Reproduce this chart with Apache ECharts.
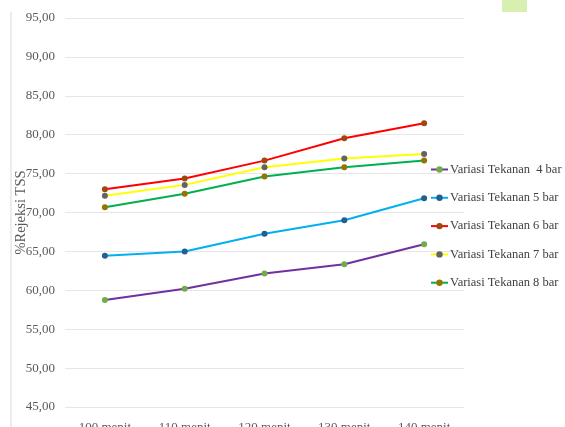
<!DOCTYPE html>
<html>
<head>
<meta charset="utf-8">
<script src="https://cdn.jsdelivr.net/npm/echarts@6/dist/echarts.min.js"></script>
<style>
  html, body { margin: 0; padding: 0; background: #ffffff; }
  #chart { width: 565px; height: 427px; }
</style>
</head>
<body>
<div id="chart"></div>
<script>
// Waktu operasi (menit)
const categories = ['100 menit', '110 menit', '120 menit', '130 menit', '140 menit'];

// % Rejeksi TSS per variasi tekanan
const seriesNames = [
  'Variasi Tekanan  4 bar',
  'Variasi Tekanan 5 bar',
  'Variasi Tekanan 6 bar',
  'Variasi Tekanan 7 bar',
  'Variasi Tekanan 8 bar'
];
const tekanan4 = [58.74, 60.19, 62.16, 63.36, 65.93];
const tekanan5 = [64.43, 64.99, 67.26, 69.01, 71.84];
const tekanan6 = [73.00, 74.36, 76.67, 79.54, 81.47];
const tekanan7 = [72.14, 73.55, 75.82, 76.93, 77.53];
const tekanan8 = [70.68, 72.40, 74.62, 75.82, 76.68];

// line colour / marker colour per series
const lineColors = ['#7030A0', '#00B0F0', '#FF0000', '#FFFF00', '#00B050'];
const markerColors = ['#70AD47', '#255E91', '#9E480E', '#636363', '#997300'];

const values = [tekanan4, tekanan5, tekanan6, tekanan7, tekanan8];
const serif = '"Liberation Serif", "Times New Roman", serif';

const chart = echarts.init(document.getElementById('chart'), null, { renderer: 'canvas' });

chart.setOption({
  animation: false,
  backgroundColor: '#ffffff',
  grid: { left: 65, right: 101, top: 18, bottom: 20, containLabel: false, outerBoundsMode: 'none' },
  graphic: [
    { type: 'line', shape: { x1: 11, y1: 12, x2: 11, y2: 427 },
      style: { stroke: '#d9d9d9', lineWidth: 1 } },
    { type: 'rect', shape: { x: 502, y: 0, width: 25, height: 12 },
      style: { fill: '#d8efb2' } }
  ],
  legend: {
    orient: 'vertical',
    left: 430,
    top: 163,
    padding: 0,
    itemWidth: 17,
    itemHeight: 8,
    itemGap: 15.3,
    textStyle: { fontFamily: serif, fontSize: 12.5, color: '#404040', padding: [0, 0, 0, -3] },
    data: seriesNames
  },
  xAxis: {
    type: 'category',
    data: categories,
    boundaryGap: true,
    axisLine: { show: false },
    axisTick: { show: false },
    axisLabel: { fontFamily: serif, fontSize: 13, color: '#595959', margin: 14 }
  },
  yAxis: {
    type: 'value',
    min: 45,
    max: 95,
    interval: 5,
    name: '%Rejeksi TSS',
    nameLocation: 'middle',
    nameGap: 36,
    nameMoveOverlap: false,
    nameTextStyle: { fontFamily: serif, fontSize: 14.5, color: '#595959' },
    axisLine: { show: false },
    axisTick: { show: false },
    splitLine: { lineStyle: { color: '#e6e6e6', width: 1 } },
    axisLabel: {
      fontFamily: serif, fontSize: 13, color: '#595959', margin: 10,
      formatter: v => v.toFixed(2).replace('.', ',')
    }
  },
  series: values.map((d, i) => ({
    name: seriesNames[i],
    type: 'line',
    data: d,
    symbol: 'circle',
    symbolSize: 6,
    lineStyle: { color: lineColors[i], width: 2 },
    itemStyle: { color: markerColors[i] },
    emphasis: { disabled: true }
  }))
});
</script>
</body>
</html>
